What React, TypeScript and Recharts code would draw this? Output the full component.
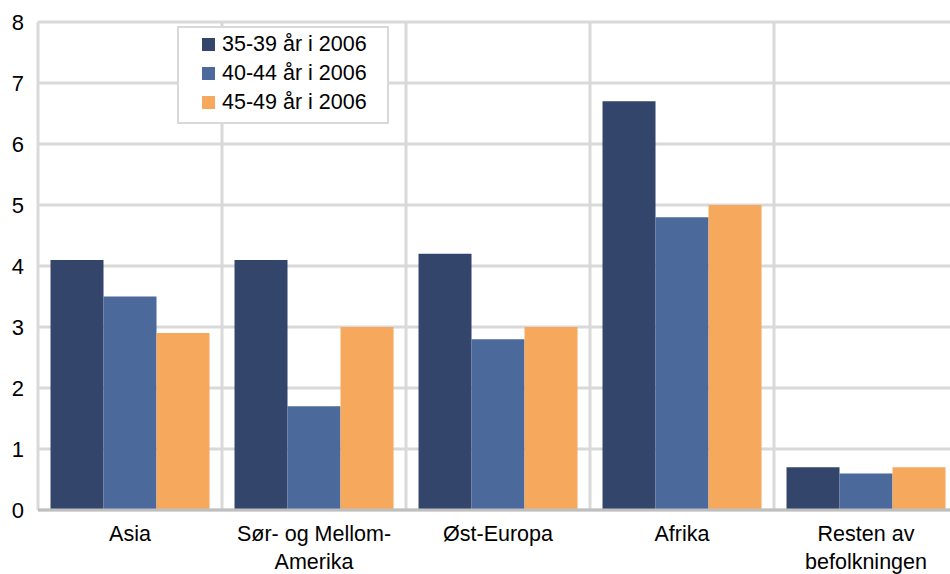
import { BarChart, Bar, XAxis, YAxis, CartesianGrid } from "recharts";

const categories = [
  "Asia",
  "Sør- og Mellom-\nAmerika",
  "Øst-Europa",
  "Afrika",
  "Resten av\nbefolkningen",
];
const age3539 = [4.1, 4.1, 4.2, 6.7, 0.7];
const age4044 = [3.5, 1.7, 2.8, 4.8, 0.6];
const age4549 = [2.9, 3.0, 3.0, 5.0, 0.7];
const yTicks = [0, 1, 2, 3, 4, 5, 6, 7, 8];

const seriesInfo = [
  { key: "a", name: "35-39 år i 2006", color: "#33456a" },
  { key: "b", name: "40-44 år i 2006", color: "#4b699b" },
  { key: "c", name: "45-49 år i 2006", color: "#f6a95d" },
];

const data = categories.map((cat, i) => ({
  cat,
  a: age3539[i],
  b: age4044[i],
  c: age4549[i],
}));

const FONT = "'Liberation Sans', Arial, sans-serif";

function CatTick(props: any) {
  const { x, y, payload } = props;
  const lines = String(payload.value).split("\n");
  return (
    <text
      x={x}
      y={y}
      textAnchor="middle"
      fontFamily={FONT}
      fontSize={21.5}
      fill="#000"
    >
      {lines.map((l, i) => (
        <tspan key={i} x={x} dy={i === 0 ? 23 : 28}>
          {l}
        </tspan>
      ))}
    </text>
  );
}

function LegendBox() {
  return (
    <div
      style={{
        position: "absolute",
        left: 177,
        top: 26,
        width: 208,
        height: 92,
        border: "2px solid #d9d9d9",
        background: "#fff",
        fontFamily: FONT,
        fontSize: 21.5,
        lineHeight: "29px",
        color: "#000",
        paddingTop: 2,
      }}
    >
      {seriesInfo.map((s) => (
        <div
          key={s.key}
          style={{ display: "flex", alignItems: "center", height: 29 }}
        >
          <span
            style={{
              display: "inline-block",
              width: 13,
              height: 13,
              background: s.color,
              marginLeft: 23,
              marginRight: 7,
            }}
          />
          <span>{s.name}</span>
        </div>
      ))}
    </div>
  );
}

export default function App() {
  return (
    <div
      style={{
        position: "absolute",
        left: 0,
        top: 0,
        width: 950,
        height: 574,
        overflow: "hidden",
        background: "#fff",
      }}
    >
      <BarChart
        width={958}
        height={574}
        data={data}
        margin={{ top: 22, right: 0, left: 0, bottom: 4 }}
        barCategoryGap="6.8%"
        barGap={0}
      >
        <CartesianGrid
          stroke="#d9d9d9"
          strokeWidth={3}
          verticalCoordinatesGenerator={({ offset }: any) =>
            categories
              .concat([""])
              .map((_, i) => offset.left + (i * offset.width) / categories.length)
          }
        />
        <XAxis
          dataKey="cat"
          height={60}
          tickLine={false}
          axisLine={{ stroke: "#bfbfbf", strokeWidth: 3 }}
          tick={<CatTick />}
          interval={0}
        />
        <YAxis
          width={38}
          domain={[0, 8]}
          ticks={yTicks}
          axisLine={false}
          tickLine={false}
          tick={{ fill: "#000", fontSize: 22, fontFamily: FONT, dx: -6 }}
        />
        {seriesInfo.map((s) => (
          <Bar
            key={s.key}
            dataKey={s.key}
            name={s.name}
            fill={s.color}
            isAnimationActive={false}
          />
        ))}
      </BarChart>
      <LegendBox />
    </div>
  );
}
